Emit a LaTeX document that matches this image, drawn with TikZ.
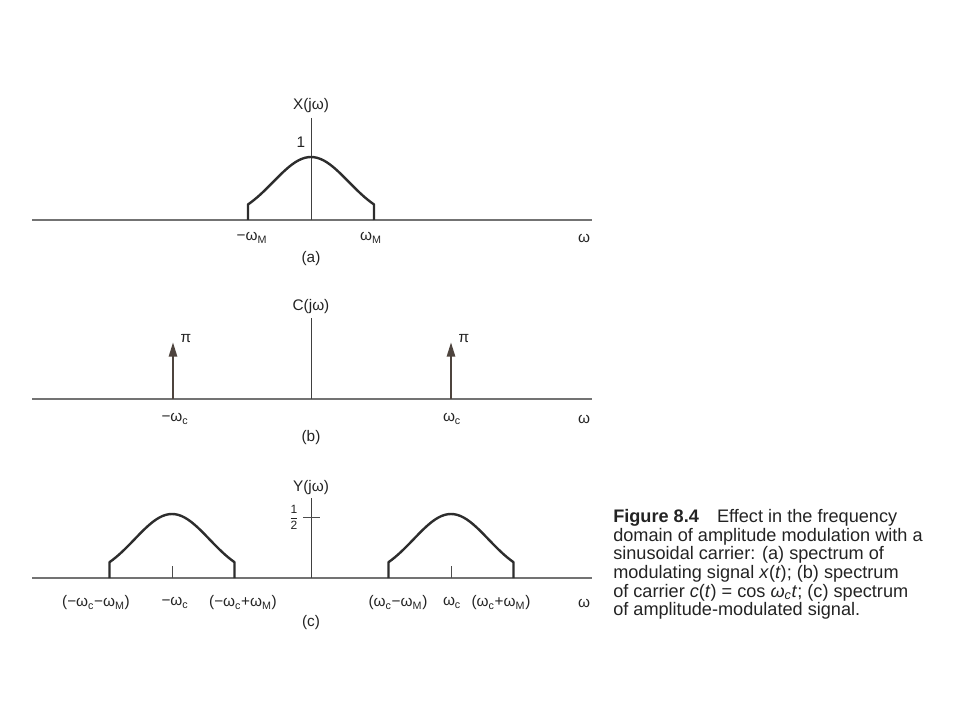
\documentclass[tikz,border=0pt]{standalone}
\usepackage{amsmath}
\usepackage{fontspec}
\setmainfont{Liberation Sans}
\usepackage{tikz}
\usetikzlibrary{arrows.meta}
\usepackage{xcolor}
\definecolor{axisgray}{RGB}{115,115,115}
\definecolor{curvegray}{RGB}{45,45,45}
\definecolor{textgray}{RGB}{35,35,35}
\definecolor{impulsebrown}{RGB}{78,68,62}
\newcommand{\wM}{ω\textsubscript{M}}
\newcommand{\wc}{ω\textsubscript{c}}

\begin{document}
\begin{tikzpicture}[x=0.75pt,y=0.75pt,yscale=-1,xscale=1,
    every node/.style={text=textgray,inner sep=0.75pt,font=\fontsize{11.5}{13}\selectfont},
    haxis/.style={draw=axisgray,line width=1pt},
    vaxis/.style={draw=black!75,line width=0.6pt},
    spec/.style={draw=curvegray,line width=1.8pt,line join=round},
    smalltick/.style={draw=black!70,line width=0.6pt},
    impulse/.style={draw=impulsebrown,line width=2pt,-{Triangle[length=11pt,width=6pt]}}]
        \useasboundingbox (0,0) rectangle (960,720);

        %Straight Lines: panel (a)
        \draw [haxis] (32,220) -- (592,220) ;
        \draw [vaxis] (311,118) -- (311,220) ;
        %Shape: Curve X(jw)
        \draw [spec] (248,220) -- plot[domain=-1:1,samples=41] ({311+63*\x},{220-63*exp(-1.4*\x*\x)}) -- (374,220) ;

        % Text Node
        \draw (311,106) node (Xlab) {X(jω)};
        % Text Node
        \draw (301,142) node (oneLab) {1};
        % Text Node
        \draw (252,238) node (wMneg) {−\wM};
        % Text Node
        \draw (371,238) node (wMpos) {\wM};
        % Text Node
        \draw (584,238) node (wA) {ω};
        % Text Node
        \draw (311,259) node (capA) {(a)};

        %Straight Lines: panel (b)
        \draw [haxis] (32,399) -- (592,399) ;
        \draw [vaxis] (311,318) -- (311,399) ;
        %Impulses
        \coordinate (impNeg) at (173,399) ;
        \coordinate (impNegTop) at (173,342) ;
        \coordinate (impPos) at (451,399) ;
        \coordinate (impPosTop) at (451,342) ;
        \draw [impulse] (impNeg) -- (impNegTop) ;
        \draw [impulse] (impPos) -- (impPosTop) ;

        % Text Node
        \draw (311,307) node (Clab) {C(jω)};
        % Text Node
        \draw (186,339) node (piNeg) {π};
        % Text Node
        \draw (464,339) node (piPos) {π};
        % Text Node
        \draw (175,419) node (wcNeg) {−\wc};
        % Text Node
        \draw (452,419) node (wcPos) {\wc};
        % Text Node
        \draw (584,419) node (wB) {ω};
        % Text Node
        \draw (311,438) node (capB) {(b)};

        %Straight Lines: panel (c)
        \draw [haxis] (32,578) -- (592,578) ;
        \draw [vaxis] (311,498) -- (311,578) ;
        \draw [smalltick] (303,517) -- (320,517) ;
        \draw [smalltick] (172,578) -- (172,566) ;
        \draw [smalltick] (451,578) -- (451,566) ;
        %Shape: Curve left band
        \draw [spec] (109.5,578) -- plot[domain=-1:1,samples=41] ({172+62.5*\x},{578-64*exp(-1.4*\x*\x)}) -- (234.5,578) ;
        %Shape: Curve right band
        \draw [spec] (388.5,578) -- plot[domain=-1:1,samples=41] ({451+62.5*\x},{578-64*exp(-1.4*\x*\x)}) -- (513.5,578) ;

        % Text Node
        \draw (311,488) node (Ylab) {Y(jω)};
        % Text Node
        \draw (294,517) node (halfLab) {\fontsize{9}{10}\selectfont$\dfrac{\text{1}}{\text{2}}$};
        % Text Node
        \draw (96,603) node (lowNeg) {(−\wc−\wM)};
        % Text Node
        \draw (175,603) node (wcNegC) {−\wc};
        % Text Node
        \draw (243,603) node (highNeg) {(−\wc+\wM)};
        % Text Node
        \draw (398,603) node (lowPos) {(\wc−\wM)};
        % Text Node
        \draw (452,603) node (wcPosC) {\wc};
        % Text Node
        \draw (501,603) node (highPos) {(\wc+\wM)};
        % Text Node
        \draw (584,603) node (wC) {ω};
        % Text Node
        \draw (311,623) node (capC) {(c)};

        % Text Node: caption
        \draw (612,508) node [anchor=north west,align=left,font=\fontsize{13.6}{14}\selectfont] (figCap) {\textbf{Figure 8.4}\quad Effect in the frequency\\
domain of amplitude modulation with a\\
sinusoidal carrier: (a) spectrum of\\
modulating signal \textit{x}(\textit{t}); (b) spectrum\\
of carrier \textit{c}(\textit{t}) = cos \textit{ω}\textsubscript{\textit{c}}\textit{t}; (c) spectrum\\
of amplitude-modulated signal.};

\end{tikzpicture}
\end{document}
